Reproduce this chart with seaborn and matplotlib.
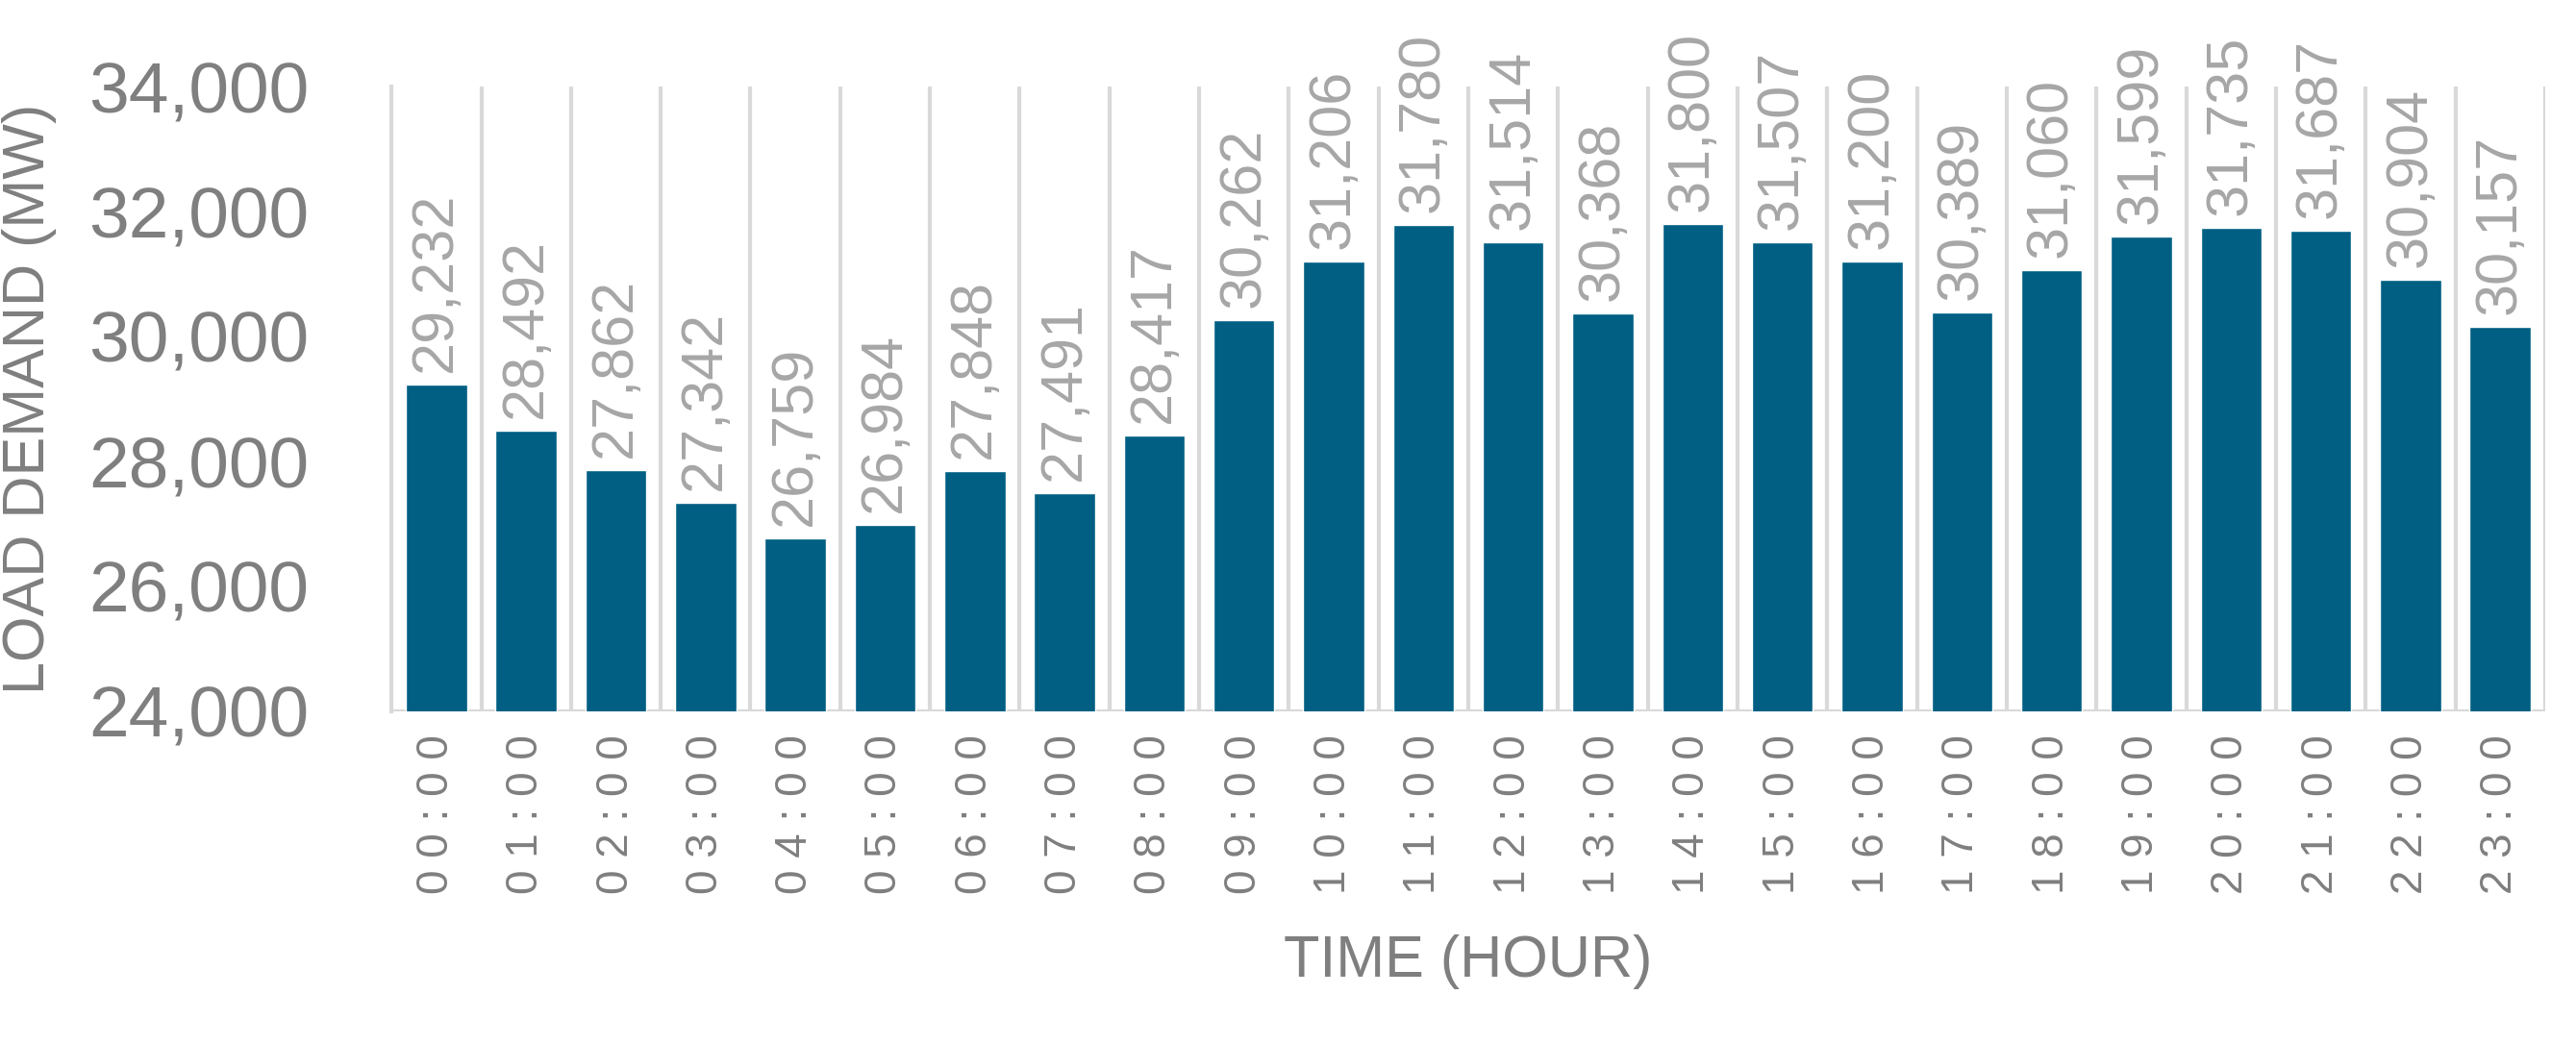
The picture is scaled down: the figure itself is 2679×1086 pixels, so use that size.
import matplotlib
matplotlib.use("Agg")
import matplotlib.pyplot as plt
import seaborn as sns
import pandas as pd

hours = [f"{h:02d}:00" for h in range(24)]
values = [29232, 28492, 27862, 27342, 26759, 26984, 27848, 27491, 28417, 30262,
          31206, 31780, 31514, 30368, 31800, 31507, 31200, 30389, 31060, 31599,
          31735, 31687, 30904, 30157]
df = pd.DataFrame({"hour": hours, "load": values})

sns.set_style("white")
plt.rcParams['font.family'] = ['Liberation Sans', 'DejaVu Sans']
fig = plt.figure(figsize=(26.79, 10.86), dpi=100)
ax = fig.add_axes([0.152, 0.319, 0.836, 0.598])
sns.barplot(data=df, x="hour", y="load", color="#005F83", saturation=1, width=0.68, ax=ax)
ax.set_ylim(24000, 34000)
ax.set_xlim(-0.5, 23.5)
ax.set_yticks(range(24000, 34001, 2000))
ax.set_yticklabels([f"{v:,}" for v in range(24000, 34001, 2000)], fontsize=54, color="#7f7f7f",
                   family=['Liberation Sans Narrow', 'Liberation Sans'])
ax.set_xticks(range(24))
ax.set_xticklabels([" ".join(h) for h in hours], rotation=90, fontsize=33, color="#7f7f7f")
ax.tick_params(axis='x', length=0, pad=18)
ax.tick_params(axis='y', direction='out', length=14, width=3, color="#d9d9d9", pad=48)
for s in ["top", "right", "bottom"]:
    ax.spines[s].set_visible(False)
ax.spines["left"].set_color("#d9d9d9")
ax.spines["left"].set_linewidth(3)
for i in range(1, 25):
    ax.axvline(i - 0.5, color="#d9d9d9", lw=3, zorder=0)
ax.axhline(24000, color="#d9d9d9", lw=3, zorder=0)
for i, v in enumerate(values):
    ax.text(i, v + 200, f"{v:,}", rotation=90, ha="center", va="bottom", fontsize=44, color="#a6a6a6")
ax.set_xlabel("TIME (HOUR)", fontsize=44, color="#7f7f7f", labelpad=30)
ax.set_ylabel("LOAD DEMAND (MW)", fontsize=44, color="#7f7f7f", labelpad=24)
fig.savefig("out.png", dpi=100)
